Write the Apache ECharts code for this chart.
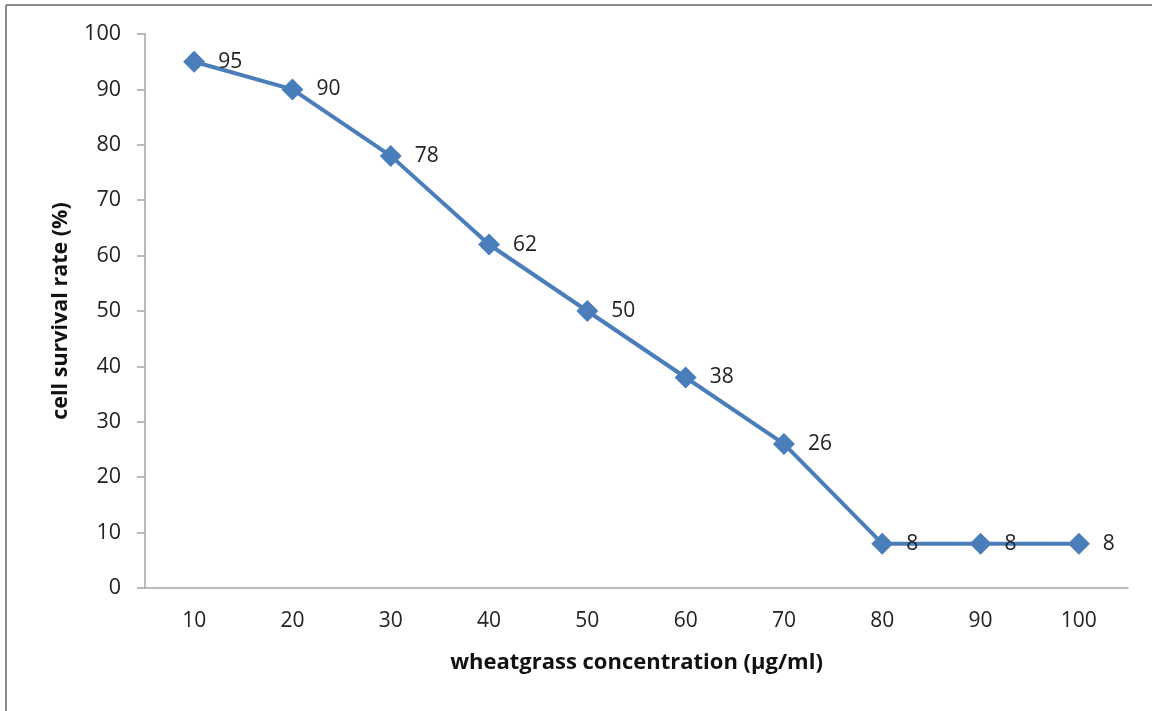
<!DOCTYPE html>
<html><head><meta charset="utf-8">
<script src="https://cdn.jsdelivr.net/npm/echarts@6/dist/echarts.min.js"></script>
<style>html,body{margin:0;padding:0;background:#fff}#c{width:1152px;height:711px}</style>
</head><body><div id="c"></div>
<script>
const categories = ['10','20','30','40','50','60','70','80','90','100'];
const survival = [95, 90, 78, 62, 50, 38, 26, 8, 8, 8];
const xTitle = 'wheatgrass concentration (µg/ml)';
const yTitle = 'cell survival rate (%)';

const chart = echarts.init(document.getElementById('c'), null, {renderer: 'canvas'});
const font = '"Open Sans", "Noto Sans", sans-serif';
chart.setOption({
  animation: false,
  backgroundColor: '#fff',
  graphic: [
    {type: 'line', shape: {x1: 6, y1: 5, x2: 1152, y2: 5}, style: {stroke: '#8a8a8a', lineWidth: 2}},
    {type: 'line', shape: {x1: 6, y1: 5, x2: 6, y2: 711}, style: {stroke: '#8a8a8a', lineWidth: 2}}
  ],
  grid: {left: 145, right: 24, top: 34, bottom: 123},
  xAxis: {
    type: 'category', data: categories, boundaryGap: true,
    axisLine: {lineStyle: {color: '#a6a6a6', width: 1.5}},
    axisTick: {show: false},
    axisLabel: {color: '#222', fontFamily: font, fontSize: 21, margin: 23},
    name: xTitle, nameLocation: 'middle', nameGap: 64,
    nameTextStyle: {color: '#111', fontFamily: font, fontSize: 22, fontWeight: 'bold'}
  },
  yAxis: {
    type: 'value', min: 0, max: 100, interval: 10,
    axisLine: {show: true, lineStyle: {color: '#a6a6a6', width: 1.5}},
    axisTick: {show: true, inside: false, length: 8, lineStyle: {color: '#a6a6a6', width: 1.5}},
    splitLine: {show: false},
    axisLabel: {color: '#222', fontFamily: font, fontSize: 21.5, margin: 24},
    name: yTitle, nameLocation: 'middle', nameGap: 73, nameRotate: 90,
    nameTextStyle: {color: '#111', fontFamily: font, fontSize: 21.5, fontWeight: 'bold'}
  },
  series: [{
    type: 'line', data: survival,
    symbol: 'diamond', symbolSize: [22, 22],
    lineStyle: {color: '#4a7ebb', width: 4},
    itemStyle: {color: '#4a7ebb'},
    label: {show: true, position: 'right', distance: 13, color: '#222', fontFamily: font, fontSize: 21}
  }]
});
</script></body></html>
